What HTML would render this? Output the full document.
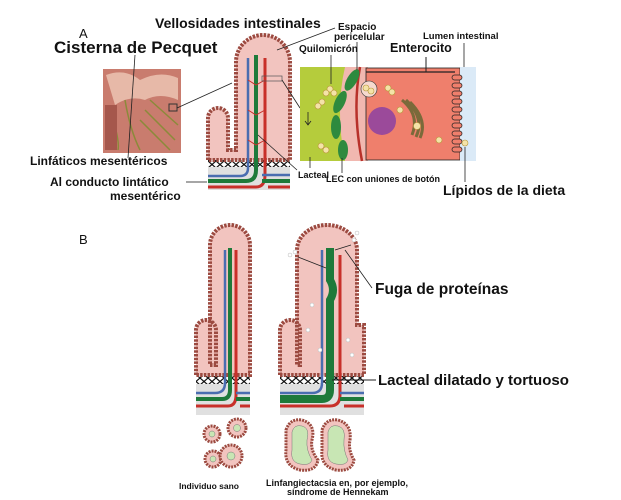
<!DOCTYPE html>
<html><head><meta charset="utf-8"><style>
html,body{margin:0;padding:0;background:#fff}
svg{display:block}
text{font-family:"Liberation Sans",sans-serif;font-weight:bold;fill:#111}
</style></head><body>
<svg width="621" height="500" viewBox="0 0 621 500" xmlns="http://www.w3.org/2000/svg">
<defs>
<pattern id="zz" width="8" height="7" patternUnits="userSpaceOnUse"><rect width="8" height="7" fill="#fff"/><path d="M0,0 L4,3.5 L0,7 M8,0 L4,3.5 L8,7" stroke="#111" stroke-width="1.2" fill="none"/></pattern>
</defs>

<text x="79" y="38" style="font-weight:normal" font-size="13">A</text>
<text x="54" y="53" font-size="17">Cisterna de Pecquet</text>
<text x="155" y="28" font-size="14">Vellosidades intestinales</text>
<text x="338" y="30" font-size="10">Espacio</text>
<text x="334" y="40" font-size="10">pericelular</text>
<text x="299" y="52" font-size="10">Quilomicrón</text>
<text x="423" y="39" font-size="9.5">Lumen intestinal</text>
<text x="390" y="52" font-size="12.5">Enterocito</text>
<text x="30" y="165" font-size="12">Linfáticos mesentéricos</text>
<text x="50" y="186" font-size="12">Al conducto lintático</text>
<text x="110" y="200" font-size="12">mesentérico</text>
<text x="298" y="178" font-size="9">Lacteal</text>
<text x="326" y="182" font-size="9">LEC con uniones de botón</text>
<text x="443" y="195" font-size="14">Lípidos de la dieta</text>
<text x="79" y="244" style="font-weight:normal" font-size="13">B</text>
<text x="375" y="294" font-size="15.5">Fuga de proteínas</text>
<text x="378" y="385" font-size="15">Lacteal dilatado y tortuoso</text>
<text x="179" y="489" font-size="8.5">Individuo sano</text>
<text x="266" y="486" font-size="9">Linfangiectacsia en, por ejemplo,</text>
<text x="287" y="495" font-size="9">síndrome de Hennekam</text>

<!-- Mesentery image -->
<rect x="103" y="69" width="78" height="84" fill="#c97c6e"/>
<path d="M106,75 Q125,68 140,80 Q160,70 178,78 L178,100 Q160,92 145,100 Q130,95 115,105 Z" fill="#e7b9a8"/>
<path d="M110,110 Q120,140 118,150 M125,100 Q130,130 140,150 M150,100 L178,125 M145,110 L175,140 M140,120 L170,150" stroke="#8b8a3a" stroke-width="1.5" fill="none"/>
<rect x="105" y="105" width="12" height="45" fill="#a5574c"/>
<rect x="169" y="104" width="8" height="7" fill="none" stroke="#333"/>
<line x1="135" y1="55" x2="128" y2="158" stroke="#222" stroke-width="0.8"/>
<line x1="177" y1="108" x2="232" y2="83" stroke="#222" stroke-width="0.8"/>

<!-- Villus A -->
<g>
<rect x="208" y="160" width="82" height="30" fill="#e0e0e0"/>
<rect x="208" y="160" width="82" height="7" fill="url(#zz)"/>
<path d="M208,160 V118 A10,10 0 0 1 228,118 V150 H236 V62 A27,27 0 0 1 290,62 V150 V160 Z" fill="#f2c4bf" stroke="#9c4a40" stroke-width="4" stroke-dasharray="2.5,1.2"/>
<path d="M208,176 H240 Q248,176 248,168 V58" stroke="#4a6db0" stroke-width="2.5" fill="none"/>
<path d="M208,181 H246 Q256,181 256,170 V55" stroke="#1e7a3a" stroke-width="4" fill="none"/>
<path d="M208,187 H256 Q265,187 265,175 V58" stroke="#c8302a" stroke-width="3" fill="none"/>
<path d="M248,80 L256,85 L265,80 M248,110 L256,115 L265,110 M248,140 L256,145 L265,140" stroke="#c8302a" stroke-width="1" fill="none"/>
<path d="M290,175 H262" stroke="#4a6db0" stroke-width="2.5"/>
<path d="M290,181 H262" stroke="#1e7a3a" stroke-width="4"/>
<path d="M290,187 H268" stroke="#c8302a" stroke-width="3"/>
<rect x="262" y="76" width="20" height="5" fill="none" stroke="#555" stroke-width="0.7"/>
<line x1="186" y1="182" x2="207" y2="182" stroke="#888" stroke-width="1.5"/>
<line x1="277" y1="50" x2="335" y2="28" stroke="#222" stroke-width="0.8"/>
<line x1="282" y1="80" x2="300" y2="108" stroke="#222" stroke-width="0.8"/>
<line x1="258" y1="135" x2="297" y2="170" stroke="#222" stroke-width="0.8"/>
</g>

<!-- Cell detail -->
<rect x="300" y="67" width="60" height="94" fill="#b5cc3c"/>
<path d="M345,67 Q335,110 345,161 L368,161 L368,67 Z" fill="#f1b8b0"/>
<path d="M360,67 Q352,110 362,161" stroke="#b8312a" stroke-width="2.5" fill="none"/>
<g fill="#2e8a3e"><ellipse cx="352" cy="80" rx="5" ry="12" transform="rotate(30 352 80)"/><ellipse cx="340" cy="102" rx="5" ry="12" transform="rotate(25 340 102)"/><ellipse cx="336" cy="127" rx="5" ry="12"/><ellipse cx="343" cy="150" rx="5" ry="10"/></g>
<rect x="366" y="68" width="94" height="92" fill="#ef7f6c" stroke="#222" stroke-width="0.8"/>
<line x1="366" y1="72" x2="455" y2="72" stroke="#222" stroke-width="1.2"/>
<rect x="460" y="67" width="16" height="94" fill="#dbeaf7"/>
<g fill="#ef7f6c" stroke="#222" stroke-width="0.7"><rect x="452" y="75" width="10" height="5" rx="2.5"/><rect x="452" y="83" width="10" height="5" rx="2.5"/><rect x="452" y="91" width="10" height="5" rx="2.5"/><rect x="452" y="99" width="10" height="5" rx="2.5"/><rect x="452" y="107" width="10" height="5" rx="2.5"/><rect x="452" y="115" width="10" height="5" rx="2.5"/><rect x="452" y="123" width="10" height="5" rx="2.5"/><rect x="452" y="131" width="10" height="5" rx="2.5"/><rect x="452" y="139" width="10" height="5" rx="2.5"/><rect x="452" y="147" width="10" height="5" rx="2.5"/></g>
<circle cx="382" cy="121" r="14" fill="#9b4a9a"/>
<path d="M402,100 Q420,115 412,135 M406,100 Q425,118 416,137 M410,102 Q428,120 420,138" stroke="#7a6a3a" stroke-width="3" fill="none"/>
<circle cx="369" cy="89" r="8" fill="#f6d9cf" stroke="#333" stroke-width="0.6"/>
<g fill="#f4e3a8" stroke="#b9973a" stroke-width="0.6"><circle cx="330" cy="89" r="3"/><circle cx="334" cy="93" r="3"/><circle cx="326" cy="93" r="3"/><circle cx="322" cy="102" r="3"/><circle cx="318" cy="106" r="3"/><circle cx="326" cy="150" r="3"/><circle cx="321" cy="146" r="3"/><circle cx="388" cy="88" r="3"/><circle cx="392" cy="92" r="3"/><circle cx="400" cy="110" r="3"/><circle cx="417" cy="126" r="3.5"/><circle cx="439" cy="140" r="3"/><circle cx="465" cy="143" r="3"/><circle cx="366" cy="88" r="3"/><circle cx="371" cy="91" r="3"/></g>
<path d="M308,112 V125 M305,121 L308,125 L311,121" stroke="#222" stroke-width="0.8" fill="none"/>
<line x1="331" y1="55" x2="331" y2="84" stroke="#222" stroke-width="0.8"/>
<line x1="357" y1="42" x2="357" y2="70" stroke="#222" stroke-width="0.8"/>
<line x1="426" y1="57" x2="426" y2="72" stroke="#222" stroke-width="1"/>
<line x1="464" y1="43" x2="464" y2="67" stroke="#222" stroke-width="0.8"/>
<line x1="465" y1="147" x2="465" y2="182" stroke="#222" stroke-width="0.8"/>
<line x1="310" y1="157" x2="310" y2="168" stroke="#222" stroke-width="0.8"/>
<line x1="342" y1="158" x2="342" y2="173" stroke="#222" stroke-width="0.8"/>

<!-- Villus B left -->
<g>
<rect x="196" y="375" width="54" height="40" fill="#e0e0e0"/>
<rect x="196" y="376" width="54" height="8" fill="url(#zz)"/>
<path d="M196,375 V330 A10,10 0 0 1 216,330 V365 H210 V245 A20,20 0 0 1 250,245 V375 Z" fill="#f2c4bf" stroke="#9c4a40" stroke-width="4" stroke-dasharray="2.5,1.2"/>
<path d="M196,393 H215 Q225,393 225,383 V250" stroke="#4a6db0" stroke-width="2.5" fill="none"/>
<path d="M196,399 H222 Q230,399 230,390 V248" stroke="#1e7a3a" stroke-width="4" fill="none"/>
<path d="M196,406 H228 Q236,406 236,395 V250" stroke="#c8302a" stroke-width="3" fill="none"/>
<path d="M250,393 H236" stroke="#4a6db0" stroke-width="2.5"/>
<path d="M250,399 H236" stroke="#1e7a3a" stroke-width="4"/>
<path d="M250,406 H240" stroke="#c8302a" stroke-width="3"/>
</g>
<!-- Villus B right -->
<g>
<rect x="280" y="375" width="84" height="40" fill="#e0e0e0"/>
<rect x="280" y="376" width="84" height="8" fill="url(#zz)"/>
<path d="M280,375 V330 A10,10 0 0 1 300,330 V365 H297 V250 A30,25 0 0 1 357,250 V325 H364 V375 Z" fill="#f2c4bf" stroke="#9c4a40" stroke-width="4" stroke-dasharray="2.5,1.2"/>
<path d="M280,393 H312 Q322,393 322,383 V250" stroke="#4a6db0" stroke-width="2.5" fill="none"/>
<path d="M280,399 H322 Q330,399 330,390 V300 Q336,290 330,280 V248" stroke="#1e7a3a" stroke-width="8" fill="none"/>
<path d="M280,406 H330 Q340,406 340,395 V255" stroke="#c8302a" stroke-width="3" fill="none"/>
<path d="M364,393 H340" stroke="#4a6db0" stroke-width="2.5"/>
<path d="M364,399 H340" stroke="#1e7a3a" stroke-width="4"/>
<path d="M364,406 H344" stroke="#c8302a" stroke-width="3"/>
<g fill="#fff" stroke="#bbb" stroke-width="0.5"><circle cx="290" cy="255" r="2"/><circle cx="295" cy="252" r="2"/><circle cx="357" cy="233" r="2"/><circle cx="354" cy="240" r="2"/><circle cx="312" cy="305" r="2"/><circle cx="308" cy="330" r="2"/><circle cx="348" cy="340" r="2"/><circle cx="352" cy="355" r="2"/><circle cx="320" cy="350" r="2"/></g>
<path d="M326,268 L298,257 M351,245 L335,250" stroke="#222" stroke-width="0.8" fill="none"/>
<line x1="345" y1="250" x2="372" y2="288" stroke="#222" stroke-width="0.8"/>
<line x1="332" y1="380" x2="376" y2="380" stroke="#222" stroke-width="1"/>
</g>

<!-- Cross sections -->
<g fill="#f2c4bf" stroke="#9c4a40" stroke-width="3" stroke-dasharray="2,1">
<circle cx="212" cy="434" r="8"/><circle cx="237" cy="428" r="9"/><circle cx="213" cy="459" r="8"/><circle cx="231" cy="456" r="11"/>
<path d="M286,430 Q290,418 302,420 Q316,424 312,440 Q310,450 318,460 Q316,472 300,470 Q284,466 286,450 Z"/>
<path d="M322,430 Q326,418 338,420 Q352,424 350,440 Q348,450 354,460 Q352,472 336,470 Q320,466 322,450 Z"/>
</g>
<g fill="#c8e6b4" stroke="#777" stroke-width="0.5"><circle cx="212" cy="434" r="3"/><circle cx="237" cy="428" r="3.5"/><circle cx="213" cy="459" r="3"/><circle cx="231" cy="456" r="4"/>
<path d="M292,432 Q294,424 302,426 Q310,428 307,440 Q306,450 312,460 Q310,466 300,464 Q290,462 292,450 Z"/>
<path d="M328,432 Q330,424 338,426 Q346,428 344,440 Q343,450 348,460 Q346,466 336,464 Q326,462 328,450 Z"/>
</g>
</svg>
</body></html>
